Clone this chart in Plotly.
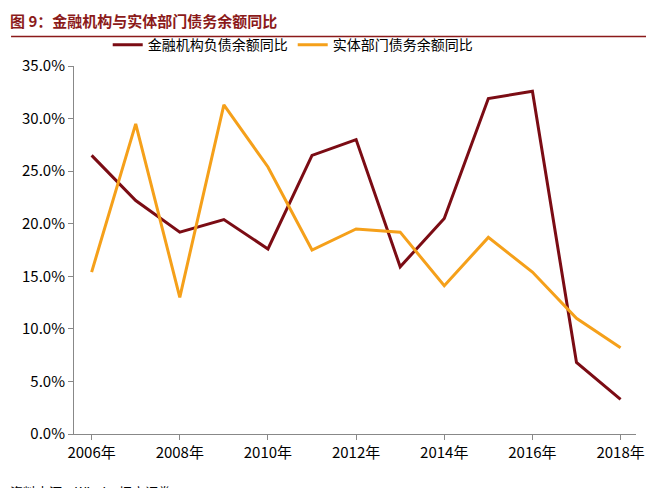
import plotly.graph_objects as go

years = list(range(2006, 2019))
fin = [26.5, 22.2, 19.2, 20.4, 17.6, 26.5, 28.0, 15.9, 20.5, 31.9, 32.6, 6.8, 3.3]
real = [15.4, 29.5, 13.0, 31.3, 25.4, 17.5, 19.5, 19.2, 14.1, 18.7, 15.4, 11.0, 8.2]
tickvals = [2006, 2008, 2010, 2012, 2014, 2016, 2018]
ticktext = [f"{y}年" for y in tickvals]

F = "Noto Sans CJK SC"
fig = go.Figure()
fig.add_trace(go.Scatter(x=years, y=fin, mode="lines", name="金融机构负债余额同比",
                         line=dict(color="#7B0C14", width=3)))
fig.add_trace(go.Scatter(x=years, y=real, mode="lines", name="实体部门债务余额同比",
                         line=dict(color="#F5A01A", width=3)))
fig.update_layout(
    width=654, height=488, paper_bgcolor="white", plot_bgcolor="white",
    margin=dict(l=66, r=26, t=58, b=62),
    font=dict(family=F, size=15, color="black"),
    legend=dict(orientation="h", x=0.06, y=1.1, xanchor="left", yanchor="top",
                font=dict(size=14), bgcolor="rgba(0,0,0,0)"),
    xaxis=dict(range=[2005.6, 2018.35], tickvals=tickvals, ticktext=ticktext,
               showgrid=False, showline=True, linecolor="#888", ticks="outside",
               ticklen=5, tickcolor="#888", tickfont=dict(size=15)),
    yaxis=dict(range=[0, 35], dtick=5, ticksuffix="%", tickformat=".1f",
               showgrid=False, showline=True, linecolor="#888", ticks="outside",
               ticklen=5, tickcolor="#888", tickfont=dict(size=15), zeroline=False),
    annotations=[
        dict(text="<b>图 9：金融机构与实体部门债务余额同比</b>", xref="paper", yref="paper",
             x=0, xanchor="left", y=1, yanchor="top", xshift=-66, yshift=58,
             showarrow=False, font=dict(size=15, color="#8B1A1A", family=F)),
        dict(text="资料来源：Wind，招商证券。", xref="paper", yref="paper",
             x=0, xanchor="left", y=0, yanchor="top", xshift=-66, yshift=-46,
             showarrow=False, font=dict(size=13, color="black", family=F)),
    ],
    shapes=[dict(type="line", xref="paper", yref="paper", x0=-0.112, x1=1.05,
                 y0=1.08, y1=1.08, line=dict(color="#8B1A1A", width=1.5))],
)
fig.write_html("out.html")
